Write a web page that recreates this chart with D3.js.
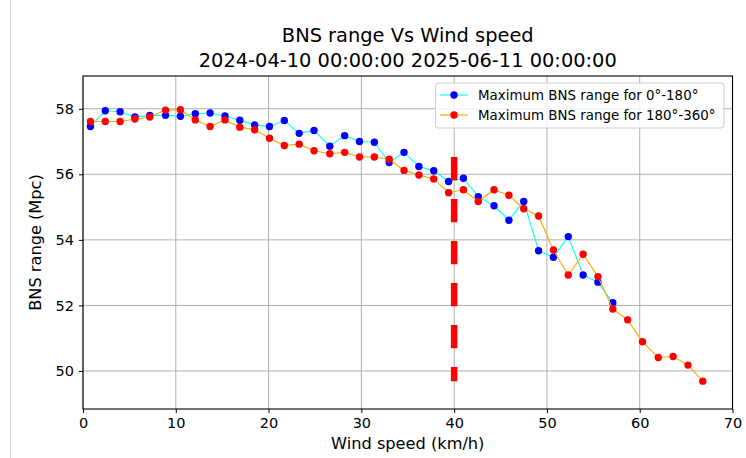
<!DOCTYPE html>
<html>
<head>
<meta charset="utf-8">
<script src="https://cdn.jsdelivr.net/npm/d3@7"></script>
<style>
  html, body { margin: 0; padding: 0; background: #fff; }
  svg { display: block; font-family: "DejaVu Sans", sans-serif; }
</style>
</head>
<body>
<svg id="chart" width="746" height="458"></svg>
<script>
// ---- data ----
const windSpeed = [0.8, 2.4, 4.0, 5.6, 7.2, 8.9, 10.5, 12.1, 13.7, 15.3, 16.9, 18.5, 20.1, 21.7,
  23.3, 24.9, 26.6, 28.2, 29.8, 31.4, 33.0, 34.6, 36.2, 37.8, 39.4, 41.0, 42.6, 44.3, 45.9,
  47.5, 49.1, 50.7, 52.3, 53.9, 55.5, 57.1, 58.7, 60.3, 62.0, 63.6, 65.2, 66.8];
const range0to180 = [57.46, 57.94, 57.91, 57.75, 57.80, 57.80, 57.77, 57.85, 57.87, 57.78,
  57.65, 57.51, 57.46, 57.64, 57.25, 57.34, 56.86, 57.18, 57.00, 56.98, 56.36, 56.67, 56.24,
  56.11, 55.78, 55.88, 55.32, 55.04, 54.60, 55.17, 53.67, 53.47, 54.10, 52.93, 52.71, 52.08];
const range180to360 = [57.61, 57.61, 57.61, 57.69, 57.75, 57.96, 57.97, 57.66, 57.46, 57.66,
  57.44, 57.36, 57.10, 56.88, 56.92, 56.72, 56.63, 56.67, 56.53, 56.53, 56.46, 56.12, 55.98,
  55.86, 55.44, 55.53, 55.17, 55.53, 55.36, 54.95, 54.73, 53.69, 52.93, 53.56, 52.88, 51.89,
  51.56, 50.89, 50.41, 50.44, 50.18, 49.69];
const xTicks = [0, 10, 20, 30, 40, 50, 60, 70];
const yTicks = [50, 52, 54, 56, 58];
const cutSpeed = 40;
const cutRange = [49.69, 56.53];
const seriesNames = ["Maximum BNS range for 0°-180°", "Maximum BNS range for 180°-360°"];
const titleLines = ["BNS range Vs Wind speed", "2024-04-10 00:00:00 2025-06-11 00:00:00"];

// ---- layout ----
const svg = d3.select("#chart");
const L = 83, R = 732.5, T = 76, B = 409;
const x = d3.scaleLinear().domain([0, 70]).range([L, R]);
const y = d3.scaleLinear().domain([48.84, 59.0]).range([B, T]);

svg.append("rect").attr("width", 746).attr("height", 458).attr("fill", "#fff");
// faint screenshot edge line
svg.append("line").attr("x1", 10.5).attr("x2", 10.5).attr("y1", 0).attr("y2", 458)
  .attr("stroke", "#d6d6d6").attr("stroke-width", 1);

// grid
const g = svg.append("g");
g.selectAll(".gx").data(xTicks).join("line")
  .attr("x1", d => x(d)).attr("x2", d => x(d)).attr("y1", T).attr("y2", B)
  .attr("stroke", "#b0b0b0").attr("stroke-width", 1);
g.selectAll(".gy").data(yTicks).join("line")
  .attr("x1", L).attr("x2", R).attr("y1", d => y(d)).attr("y2", d => y(d))
  .attr("stroke", "#b0b0b0").attr("stroke-width", 1);

// axes
const xAxis = d3.axisBottom(x).tickValues(xTicks).tickSize(4).tickPadding(5).tickFormat(d3.format("d"));
const yAxis = d3.axisLeft(y).tickValues(yTicks).tickSize(4).tickPadding(5).tickFormat(d3.format("d"));
const gx = svg.append("g").attr("transform", `translate(0,${B})`).call(xAxis);
const gy = svg.append("g").attr("transform", `translate(${L},0)`).call(yAxis);
[gx, gy].forEach(a => {
  a.select(".domain").remove();
  a.selectAll("text").attr("font-family", "DejaVu Sans").attr("font-size", 14.5).attr("fill", "#000");
  a.selectAll("line").attr("stroke", "#000");
});
// frame
svg.append("rect").attr("x", L).attr("y", T).attr("width", R - L).attr("height", B - T)
  .attr("fill", "none").attr("stroke", "#000").attr("stroke-width", 1.1);

// series
const plotG = svg.append("g");
const lineGen = d3.line().x(d => x(d[0])).y(d => y(d[1]));
const s1 = range0to180.map((v, i) => [windSpeed[i], v]);
const s2 = range180to360.map((v, i) => [windSpeed[i], v]);

plotG.append("path").datum(s1).attr("d", lineGen).attr("fill", "none")
  .attr("stroke", "#00ffff").attr("stroke-width", 1.1);
plotG.selectAll(".m1").data(s1).join("circle")
  .attr("cx", d => x(d[0])).attr("cy", d => y(d[1])).attr("r", 3.7).attr("fill", "#0000ff");
plotG.append("path").datum(s2).attr("d", lineGen).attr("fill", "none")
  .attr("stroke", "#ffa500").attr("stroke-width", 1.1);
plotG.selectAll(".m2").data(s2).join("circle")
  .attr("cx", d => x(d[0])).attr("cy", d => y(d[1])).attr("r", 3.7).attr("fill", "#ff0000");

// dashed cut line
svg.append("line")
  .attr("x1", x(cutSpeed)).attr("x2", x(cutSpeed))
  .attr("y1", y(cutRange[1])).attr("y2", y(cutRange[0]))
  .attr("stroke", "#ff0000").attr("stroke-width", 6.5).attr("stroke-dasharray", "23.4,18.6");

// legend
const lg = svg.append("g");
lg.append("rect").attr("x", 435.5).attr("y", 83).attr("width", 288.5).attr("height", 45)
  .attr("rx", 3).attr("fill", "#fff").attr("fill-opacity", 0.8)
  .attr("stroke", "#cccccc").attr("stroke-width", 1);
const legendItems = [
  { name: seriesNames[0], line: "#00ffff", dot: "#0000ff" },
  { name: seriesNames[1], line: "#ffa500", dot: "#ff0000" }
];
legendItems.forEach((it, i) => {
  const cy = 95 + i * 20;
  lg.append("line").attr("x1", 440).attr("x2", 468).attr("y1", cy).attr("y2", cy)
    .attr("stroke", it.line).attr("stroke-width", 1.1);
  lg.append("circle").attr("cx", 454).attr("cy", cy).attr("r", 3.7).attr("fill", it.dot);
  lg.append("text").attr("x", 478).attr("y", cy).attr("dy", "0.36em")
    .attr("font-size", 13.4).attr("fill", "#000").text(it.name);
});

// titles and labels
const cx = (L + R) / 2;
svg.append("text").attr("x", cx).attr("y", 42).attr("text-anchor", "middle")
  .attr("font-size", 19.4).attr("fill", "#000").text(titleLines[0]);
svg.append("text").attr("x", cx).attr("y", 67).attr("text-anchor", "middle")
  .attr("font-size", 19.4).attr("fill", "#000").text(titleLines[1]);
svg.append("text").attr("x", cx).attr("y", 449).attr("text-anchor", "middle")
  .attr("font-size", 16.2).attr("fill", "#000").text("Wind speed (km/h)");
svg.append("text").attr("transform", `translate(41,${(T + B) / 2}) rotate(-90)`)
  .attr("text-anchor", "middle").attr("font-size", 16.2).attr("fill", "#000").text("BNS range (Mpc)");
</script>
</body>
</html>
